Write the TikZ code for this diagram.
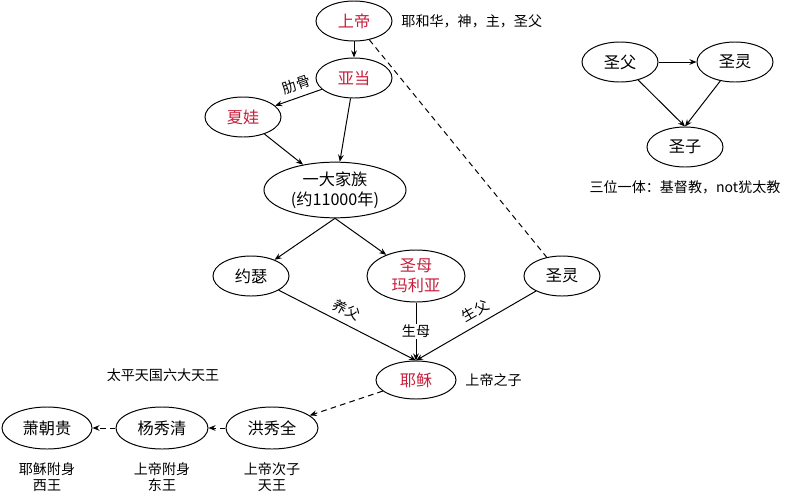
\documentclass[tikz,border=0pt]{standalone}
\usepackage{fontspec}
\setmainfont{Noto Sans CJK SC}
\usepackage{tikz}
\usetikzlibrary{shapes.geometric, arrows.meta, positioning}
\definecolor{namered}{RGB}{200, 30, 60}

\tikzset{
    person/.style={ellipse, draw, line width=0.7pt, minimum width=1.9cm, minimum height=1cm, inner sep=1pt, font=\fontsize{11.5}{14}\selectfont, align=center},
    redperson/.style={person, text=namered},
    note/.style={font=\fontsize{10}{11.5}\selectfont, align=center},
    link/.style={-{Stealth[length=5pt, width=4pt]}, line width=0.7pt},
    dashlink/.style={link, dash pattern=on 4pt off 3pt},
}

\begin{document}
\begin{tikzpicture}[x=0.025cm, y=-0.025cm]
    \useasboundingbox (0,0) rectangle (789,500);

    % Family line
    \node[redperson] (god) at (354,21) {上帝};
    \node[note, right=0.1cm of god] (godnote) {耶和华，神，主，圣父};
    \node[redperson] (adam) at (354,78) {亚当};
    \node[redperson] (eve) at (243,117) {夏娃};
    \node[person, minimum width=3.55cm, minimum height=1.25cm] (family) at (335,190) {一大家族\\(约11000年)};

    % Parents of Jesus
    \node[person] (joseph) at (251,276) {约瑟};
    \node[redperson, minimum width=2.45cm, minimum height=1.3cm] (mary) at (416,276) {圣母\\玛利亚};
    \node[person] (spirit) at (562,276) {圣灵};
    \node[redperson, minimum width=2cm, minimum height=0.95cm] (jesus) at (416,380) {耶稣};
    \node[note, right=0.1cm of jesus] (jesusnote) {上帝之子};

    % Taiping kings
    \node[note] (kingsnote) at (163,375) {太平天国六大天王};
    \node[person, minimum width=2.3cm, minimum height=1.05cm] (hong) at (272,428) {洪秀全};
    \node[person, minimum width=2.3cm, minimum height=1.05cm] (yang) at (162,428) {杨秀清};
    \node[person, minimum width=2.25cm, minimum height=1.05cm] (xiao) at (47,428) {萧朝贵};
    \node[note, below=0.2cm of hong] (hongnote) {上帝次子\\天王};
    \node[note, below=0.2cm of yang] (yangnote) {上帝附身\\东王};
    \node[note, below=0.2cm of xiao] (xiaonote) {耶稣附身\\西王};

    % Trinity
    \node[person] (father) at (620,62) {圣父};
    \node[person] (holy) at (735,62) {圣灵};
    \node[person] (son) at (685,147) {圣子};
    \node[note, below=0.2cm of son] (trinitynote) {三位一体：基督教，not犹太教};

    % Connectors
    \draw[link] (god) -- (adam);
    \draw[link] (adam) -- node[note, above=1pt, sloped, pos=0.45] {肋骨} (eve);
    \draw[link] (eve) -- (family);
    \draw[link] (adam) -- (family);
    \draw[dashlink, -] (god) -- (spirit);
    \draw[link] (family.south) -- (joseph);
    \draw[link] (family.south) -- (mary);
    \draw[link] (joseph) -- node[note, above=1pt, sloped, pos=0.45] {养父} (jesus.north);
    \draw[link] (mary) -- node[note, fill=white, inner sep=1pt, pos=0.5] {生母} (jesus.north);
    \draw[link] (spirit) -- node[note, above=1pt, sloped, pos=0.45] {生父} (jesus.north);
    \draw[dashlink] (jesus) -- (hong);
    \draw[dashlink] (hong) -- (yang);
    \draw[dashlink] (yang) -- (xiao);
    \draw[link] (father) -- (holy);
    \draw[link] (father) -- (son.north);
    \draw[link] (holy) -- (son.north);
\end{tikzpicture}
\end{document}
